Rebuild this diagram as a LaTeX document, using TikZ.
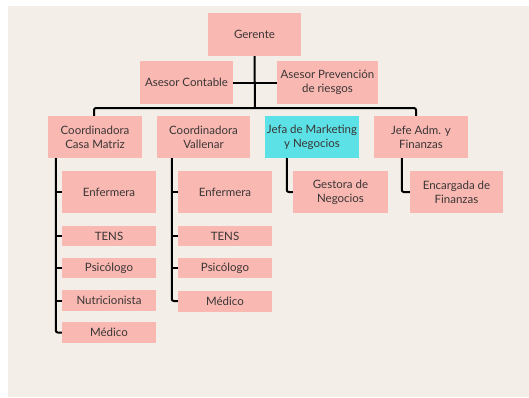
\documentclass[tikz,border=0pt]{standalone}
\usepackage{fontspec}
\setmainfont{Lato}
\usetikzlibrary{calc}
\definecolor{bg}{HTML}{F3EEE8}
\definecolor{pinkbox}{HTML}{F9B9B2}
\definecolor{cyanbox}{HTML}{5CE1E6}
\definecolor{txt}{HTML}{3A3535}
\tikzset{
  box/.style={fill=pinkbox, draw=none, inner sep=0pt, align=center, text=txt,
    font=\fontsize{11.5}{14}\selectfont},
  conn/.style={line width=2pt, black, rounded corners=2pt},
}
\begin{document}
\begin{tikzpicture}[x=1pt,y=-1pt]
\useasboundingbox (0,0) rectangle (529,397);
\fill[white] (0,0) rectangle (529,397);
\fill[bg] (8,6) rectangle (529,397);
% top
\node[box, minimum width=93pt, minimum height=43pt] (G) at (254.5,34.5) {Gerente};
\node[box, minimum width=93pt, minimum height=43pt] (AC) at (186.5,82.5) {Asesor Contable};
\node[box, minimum width=101pt, minimum height=43pt] (AP) at (327.5,82.5) {Asesor Prevención\\de riesgos};
% level 2
\node[box, minimum width=94pt, minimum height=42pt] (CM) at (95,137) {Coordinadora\\Casa Matriz};
\node[box, minimum width=93pt, minimum height=42pt] (VA) at (203.5,137) {Coordinadora\\Vallenar};
\node[box, fill=cyanbox, minimum width=94pt, minimum height=42pt] (JM) at (312,137) {Jefa de Marketing\\y Negocios};
\node[box, minimum width=94pt, minimum height=42pt] (JA) at (421,137) {Jefe Adm. y\\Finanzas};
% column 1
\node[box, minimum width=94pt, minimum height=42pt] (E1) at (109,192) {Enfermera};
\node[box, minimum width=94pt, minimum height=20pt] (T1) at (109,236) {TENS};
\node[box, minimum width=94pt, minimum height=20pt] (P1) at (109,268) {Psicólogo};
\node[box, minimum width=94pt, minimum height=21pt] (N1) at (109,300.5) {Nutricionista};
\node[box, minimum width=94pt, minimum height=21pt] (M1) at (109,332.5) {Médico};
% column 2
\node[box, minimum width=94pt, minimum height=42pt] (E2) at (225,192) {Enfermera};
\node[box, minimum width=94pt, minimum height=20pt] (T2) at (225,236) {TENS};
\node[box, minimum width=94pt, minimum height=20pt] (P2) at (225,268) {Psicólogo};
\node[box, minimum width=94pt, minimum height=21pt] (M2) at (225,301) {Médico};
% right
\node[box, minimum width=95pt, minimum height=42pt] (GN) at (340.5,192) {Gestora de\\Negocios};
\node[box, minimum width=93pt, minimum height=42pt] (EF) at (456.5,192) {Encargada de\\Finanzas};
% connectors
\coordinate (bus) at (255,108);
\draw[conn, rounded corners=0pt] (G.south) -- (bus);
\draw[conn, rounded corners=0pt] (AC.east) -- (AP.west);
\draw[conn] ($(CM.north)+(-1,0)$) |- (bus);
\draw[conn] ($(JA.north)+(-5,0)$) |- (bus);
\draw[conn, rounded corners=0pt] ($(VA.north)+(-2.5,0)$) -- ($(VA.north)+(-2.5,0)$ |- bus);
\draw[conn, rounded corners=0pt] ($(JM.north)+(-3,0)$) -- ($(JM.north)+(-3,0)$ |- bus);
% column 1 tree
\draw[conn] ($(CM.south west)+(8,0)$) |- (M1.west);
\foreach \n in {E1,T1,P1,N1} \draw[conn, rounded corners=0pt] (\n.west) -- ++(-6,0);
% column 2 tree
\draw[conn] ($(VA.south west)+(15,0)$) |- (M2.west);
\foreach \n in {E2,T2,P2} \draw[conn, rounded corners=0pt] (\n.west) -- ++(-6,0);
% right trees
\draw[conn] ($(JM.south west)+(22,0)$) |- (GN.west);
\draw[conn] ($(JA.south west)+(28,0)$) |- (EF.west);
\end{tikzpicture}
\end{document}
